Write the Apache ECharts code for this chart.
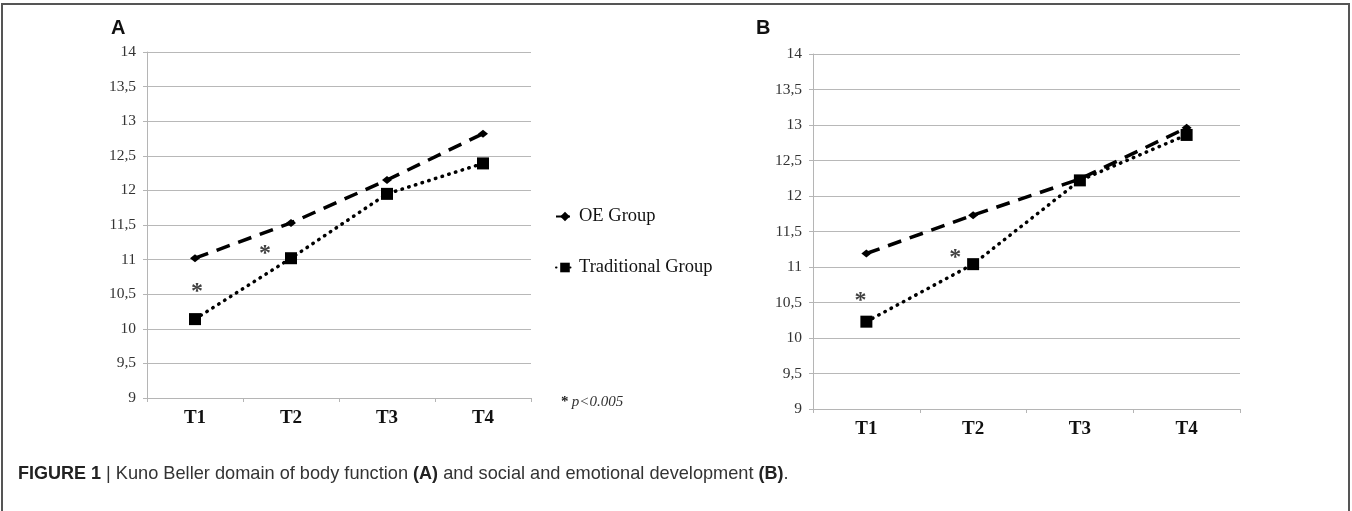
<!DOCTYPE html>
<html>
<head>
<meta charset="utf-8">
<script src="https://cdn.jsdelivr.net/npm/echarts@6/dist/echarts.min.js"></script>
<style>
html,body{margin:0;padding:0;background:#fff;}
#chart{width:1352px;height:511px;}
</style>
</head>
<body>
<div id="chart"></div>
<script>
const categories = ['T1', 'T2', 'T3', 'T4'];
const oeA = [11.02, 11.53, 12.15, 12.82];
const tradA = [10.14, 11.02, 11.95, 12.39];
const oeB = [11.19, 11.73, 12.24, 12.96];
const tradB = [10.23, 11.04, 12.22, 12.86];
const starsA = [['T1', 10.6], ['T2', 11.15]];
const starsB = [['T1', 10.6], ['T2', 11.2]];
const yMin = 9, yMax = 14, yStep = 0.5;
const seriesNames = ['OE Group', 'Traditional Group'];
const panelLabels = ['A', 'B'];
const captionParts = ['FIGURE 1', ' | Kuno Beller domain of body function ', '(A)', ' and social and emotional development ', '(B)', '.'];
const noteText = 'p<0.005';

const serif = '"Liberation Serif", "DejaVu Serif", serif';
const sans = '"Liberation Sans", Arial, sans-serif';

function yAxisCfg(gi) {
  return {
    type: 'value', gridIndex: gi, min: yMin, max: yMax, interval: yStep,
    axisLine: { show: true, lineStyle: { color: '#b5b5b5', width: 1 } },
    axisTick: { show: true, length: 4, lineStyle: { color: '#b5b5b5' } },
    splitLine: { show: true, lineStyle: { color: '#b8b8b8', width: 1 } },
    axisLabel: {
      margin: 11, color: '#333', fontFamily: serif, fontSize: 15.5,
      formatter: v => String(v).replace('.', ',')
    }
  };
}
function xAxisCfg(gi) {
  return {
    type: 'category', gridIndex: gi, data: categories, boundaryGap: true,
    axisLine: { show: true, lineStyle: { color: '#b5b5b5', width: 1 } },
    axisTick: { show: true, length: 4, lineStyle: { color: '#b5b5b5' } },
    splitLine: { show: false },
    axisLabel: { margin: 11, color: '#111', fontFamily: serif, fontSize: 19, fontWeight: 'bold' }
  };
}
function oeSeries(gi, data) {
  return {
    name: seriesNames[0], type: 'line', xAxisIndex: gi, yAxisIndex: gi, data: data,
    symbol: 'diamond', symbolSize: [10, 8], showSymbol: true,
    itemStyle: { color: '#000' },
    lineStyle: { color: '#000', width: 3.5, type: [14, 9] },
    z: 3
  };
}
function tradSeries(gi, data) {
  return {
    name: seriesNames[1], type: 'line', xAxisIndex: gi, yAxisIndex: gi, data: data,
    symbol: 'rect', symbolSize: 12, showSymbol: true,
    itemStyle: { color: '#000' },
    lineStyle: { color: '#000', width: 3.5, type: [0.5, 6.5], cap: 'round' },
    z: 3
  };
}
function starSeries(gi, pts, offsets) {
  return {
    name: 'stars' + gi, type: 'scatter', xAxisIndex: gi, yAxisIndex: gi,
    data: pts.map((p, i) => ({ value: p, label: { offset: offsets[i] } })),
    symbol: 'circle', symbolSize: 1, itemStyle: { color: 'rgba(0,0,0,0)' }, silent: true,
    label: { show: true, formatter: '*', position: 'inside', color: '#111', fontFamily: serif, fontSize: 24, fontWeight: 'bold' },
    z: 4
  };
}

const chart = echarts.init(document.getElementById('chart'), null, { renderer: 'canvas' });
chart.setOption({
  backgroundColor: '#fff',
  animation: false,
  grid: [
    { left: 147, top: 52, width: 384, height: 346 },
    { left: 813, top: 54, width: 427, height: 355 }
  ],
  xAxis: [xAxisCfg(0), xAxisCfg(1)],
  yAxis: [yAxisCfg(0), yAxisCfg(1)],
  legend: {
    data: seriesNames, orient: 'vertical', left: 550, top: 202,
    itemWidth: 18, itemHeight: 12, itemGap: 32,
    textStyle: { fontFamily: serif, fontSize: 18.5, color: '#111' }
  },
  series: [
    oeSeries(0, oeA), tradSeries(0, tradA),
    oeSeries(1, oeB), tradSeries(1, tradB),
    starSeries(0, starsA, [[2, 5], [-26, 5]]),
    starSeries(1, starsB, [[-6, 5], [-18, 5]])
  ],
  graphic: [
    { type: 'rect', silent: true, shape: { x: 2, y: 4, width: 1347, height: 600 },
      style: { fill: 'none', stroke: '#555', lineWidth: 2 } },
    { type: 'text', left: 111, top: 18, style: { text: panelLabels[0], font: 'bold 20px ' + sans, fill: '#111' } },
    { type: 'text', left: 756, top: 18, style: { text: panelLabels[1], font: 'bold 20px ' + sans, fill: '#111' } },
    { type: 'text', left: 561, top: 395, style: {
        text: '{s|*} {p|' + noteText + '}',
        rich: {
          s: { fontFamily: serif, fontSize: 15, fontWeight: 'bold', fill: '#222' },
          p: { fontFamily: serif, fontSize: 15, fontStyle: 'italic', fill: '#333' }
        } } },
    { type: 'text', left: 18, top: 465, style: {
        text: '{b|' + captionParts[0] + '}{r|' + captionParts[1] + '}{b|' + captionParts[2] + '}{r|' + captionParts[3] + '}{b|' + captionParts[4] + '}{r|' + captionParts[5] + '}',
        rich: {
          b: { fontFamily: sans, fontSize: 18, fontWeight: 'bold', fill: '#222' },
          r: { fontFamily: sans, fontSize: 18.2, fill: '#333' }
        } } }
  ]
});
</script>
</body>
</html>
